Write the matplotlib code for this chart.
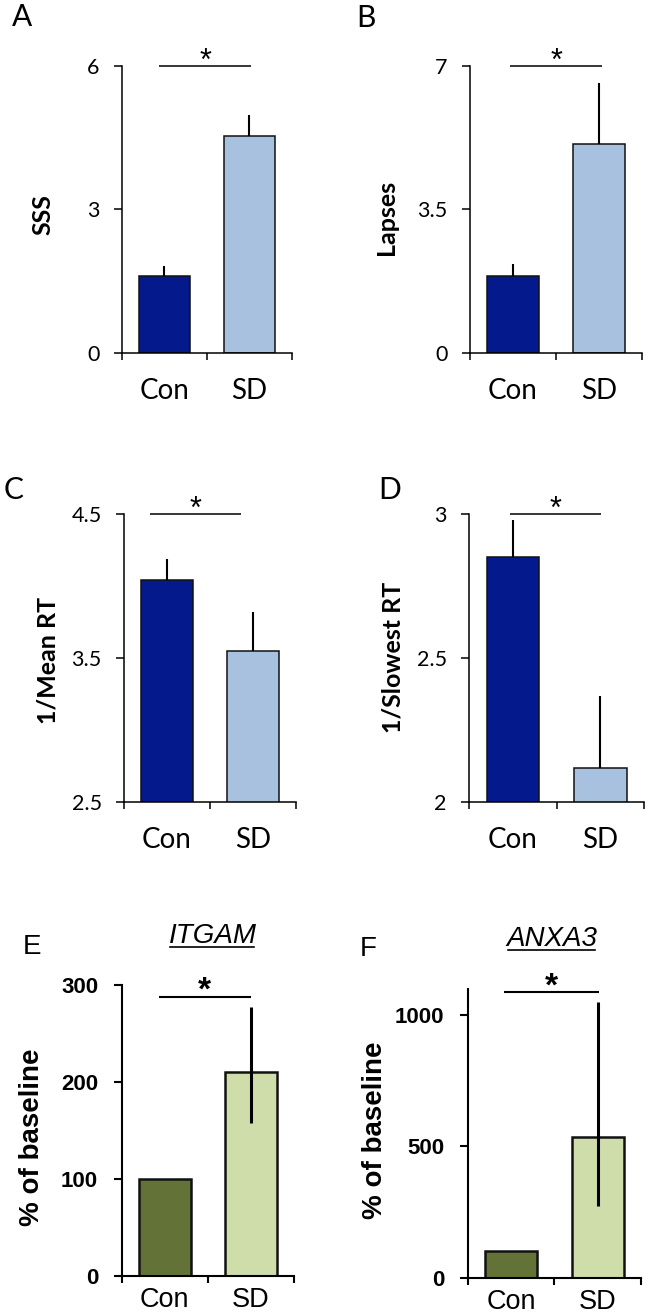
import matplotlib
matplotlib.use('Agg')
import matplotlib.pyplot as plt
from matplotlib.lines import Line2D

W, H = 650, 1316

categories = ['Con', 'SD']

sss_mean = [1.60, 4.53]
sss_err = [0.21, 0.44]

lapses_mean = [1.87, 5.10]
lapses_err = [0.29, 1.49]

meanrt_mean = [4.04, 3.55]
meanrt_err = [0.15, 0.27]

slowrt_mean = [2.85, 2.12]
slowrt_err = [0.13, 0.25]

itgam_mean = [100, 210]
itgam_err_low = [0, 52]
itgam_err_high = [0, 67]

anxa3_mean = [100, 537]
anxa3_err_low = [0, 263]
anxa3_err_high = [0, 511]

blue_colors = ['#03198C', '#A8C1DF']
green_colors = ['#637337', '#CFDDAB']

CAL = ['Lato', 'DejaVu Sans']
ARI = ['Liberation Sans', 'DejaVu Sans']

fig = plt.figure(figsize=(W / 100, H / 100), dpi=100)


def px_axes(x0, x1, ytop, ybot):
    return fig.add_axes([x0 / W, 1 - ybot / H, (x1 - x0) / W, (ybot - ytop) / H])


def panel(rect, means, errs_low, errs_high, colors, ylim, yticks, yticklabels,
          ylabel, ylabel_xy, sig, style):
    ax = px_axes(*rect)
    arial = style == 'arial'
    fam = ARI if arial else CAL
    spine_lw = 1.5 if arial else 1.1
    edge_lw = 1.8 if arial else 1.1
    err_lw = 2.2 if arial else 1.5
    xs = list(range(len(categories)))
    ax.bar(xs, means, width=0.6, color=colors, edgecolor='#111111',
           linewidth=edge_lw, zorder=2)
    for i in xs:
        lo = errs_low[i]
        hi = errs_high[i]
        if lo > 0 or hi > 0:
            ax.errorbar([xs[i]], [means[i]], yerr=[[lo], [hi]], fmt='none',
                        ecolor='black', elinewidth=err_lw, capsize=0, zorder=3)
    ax.set_xlim(-0.5, 1.5)
    ax.set_ylim(*ylim)
    for s in ['top', 'right']:
        ax.spines[s].set_visible(False)
    for s in ['left', 'bottom']:
        ax.spines[s].set_linewidth(spine_lw)
    ax.set_xticks([-0.5, 0.5, 1.5])
    ax.set_xticklabels([])
    ax.set_xticks(xs, minor=True)
    ax.set_xticklabels(categories, minor=True, fontfamily=fam,
                       fontsize=19.5 if arial else 20)
    ax.tick_params(axis='x', which='major', direction='out', length=5,
                   width=spine_lw)
    ax.tick_params(axis='x', which='minor', length=0,
                   pad=8 if arial else 18)
    ax.set_yticks(yticks)
    ax.set_yticklabels(yticklabels, fontfamily=fam,
                       fontsize=16 if arial else 15.5,
                       fontweight='bold' if arial else 'normal')
    ax.tick_params(axis='y', direction='out', length=6, width=spine_lw,
                   pad=11 if arial else 10)
    # y label
    fig.text(ylabel_xy[0] / W, 1 - ylabel_xy[1] / H, ylabel, rotation=90,
             ha='center', va='center', fontfamily=fam, fontweight='bold',
             fontsize=20 if arial else 18)
    # significance bar
    x0, x1, yv = sig
    ax.plot([x0, x1], [yv, yv], color='black', lw=1.5 if arial else 1.1,
            clip_on=False, solid_capstyle='butt')
    ax.annotate('*', xy=((x0 + x1) / 2, yv), xytext=(0, -2.2 if arial else -3.1),
                textcoords='offset points', ha='center', va='baseline',
                fontsize=24 if arial else 22, fontfamily=ARI,
                fontweight='bold' if arial else 'normal', annotation_clip=False)
    return ax


panel((121.7, 292.0, 66.0, 352.7), sss_mean, [0, 0], sss_err, blue_colors,
      (0, 6), [0, 3, 6], ['0', '3', '6'], 'SSS', (43, 215),
      (-0.06, 1.02, 6), 'cal')
panel((470.0, 641.7, 66.0, 352.7), lapses_mean, [0, 0], lapses_err, blue_colors,
      (0, 7), [0, 3.5, 7], ['0', '3.5', '7'], 'Lapses', (387, 217),
      (-0.03, 1.04, 7), 'cal')
panel((124.0, 295.7, 514.0, 802.3), meanrt_mean, [0, 0], meanrt_err, blue_colors,
      (2.5, 4.5), [2.5, 3.5, 4.5], ['2.5', '3.5', '4.5'], '1/Mean RT', (48, 660),
      (-0.2, 0.86, 4.5), 'cal')
panel((469.0, 644.0, 514.0, 802.3), slowrt_mean, [0, 0], slowrt_err, blue_colors,
      (2, 3), [2, 2.5, 3], ['2', '2.5', '3'], '1/Slowest RT', (393, 657),
      (-0.03, 1.01, 3), 'cal')
panel((121.7, 294.0, 985.0, 1275.7), itgam_mean, itgam_err_low, itgam_err_high,
      green_colors, (0, 300), [0, 100, 200, 300], ['0', '100', '200', '300'],
      '% of baseline', (32, 1137), (-0.07, 1.0, 288), 'arial')
panel((467.7, 641.0, 989.3, 1277.7), anxa3_mean, anxa3_err_low, anxa3_err_high,
      green_colors, (0, 1098), [0, 500, 1000], ['0', '500', '1000'],
      '% of baseline', (375, 1130), (-0.08, 1.015, 1086), 'arial')

# panel letters
letters = [('A', 21.7, 17, CAL, 21.5), ('B', 366, 18, CAL, 21.5),
           ('C', 14, 490, CAL, 21.5), ('D', 389.5, 490, CAL, 21.5),
           ('E', 31.7, 947, ARI, 20), ('F', 368, 949, ARI, 20)]
for t, x, y, fam, fs in letters:
    fig.text(x / W, 1 - y / H, t, ha='center', va='center', fontfamily=fam,
             fontsize=fs)

# gene titles (italic, underlined)
titles = [('ITGAM', 213, 936, 947), ('ANXA3', 552, 939, 950)]
tobjs = []
for t, x, y, uy in titles:
    tobjs.append((fig.text(x / W, 1 - y / H, t, ha='center', va='center',
                           fontfamily=ARI, fontstyle='italic', fontsize=20), uy))
fig.canvas.draw()
r = fig.canvas.get_renderer()
for tobj, uy in tobjs:
    bb = tobj.get_window_extent(r)
    fig.add_artist(Line2D([bb.x0 / W + 0.002, bb.x1 / W - 0.004],
                          [1 - uy / H, 1 - uy / H], transform=fig.transFigure,
                          color='black', lw=1.2))

fig.savefig('out.png', dpi=100)
